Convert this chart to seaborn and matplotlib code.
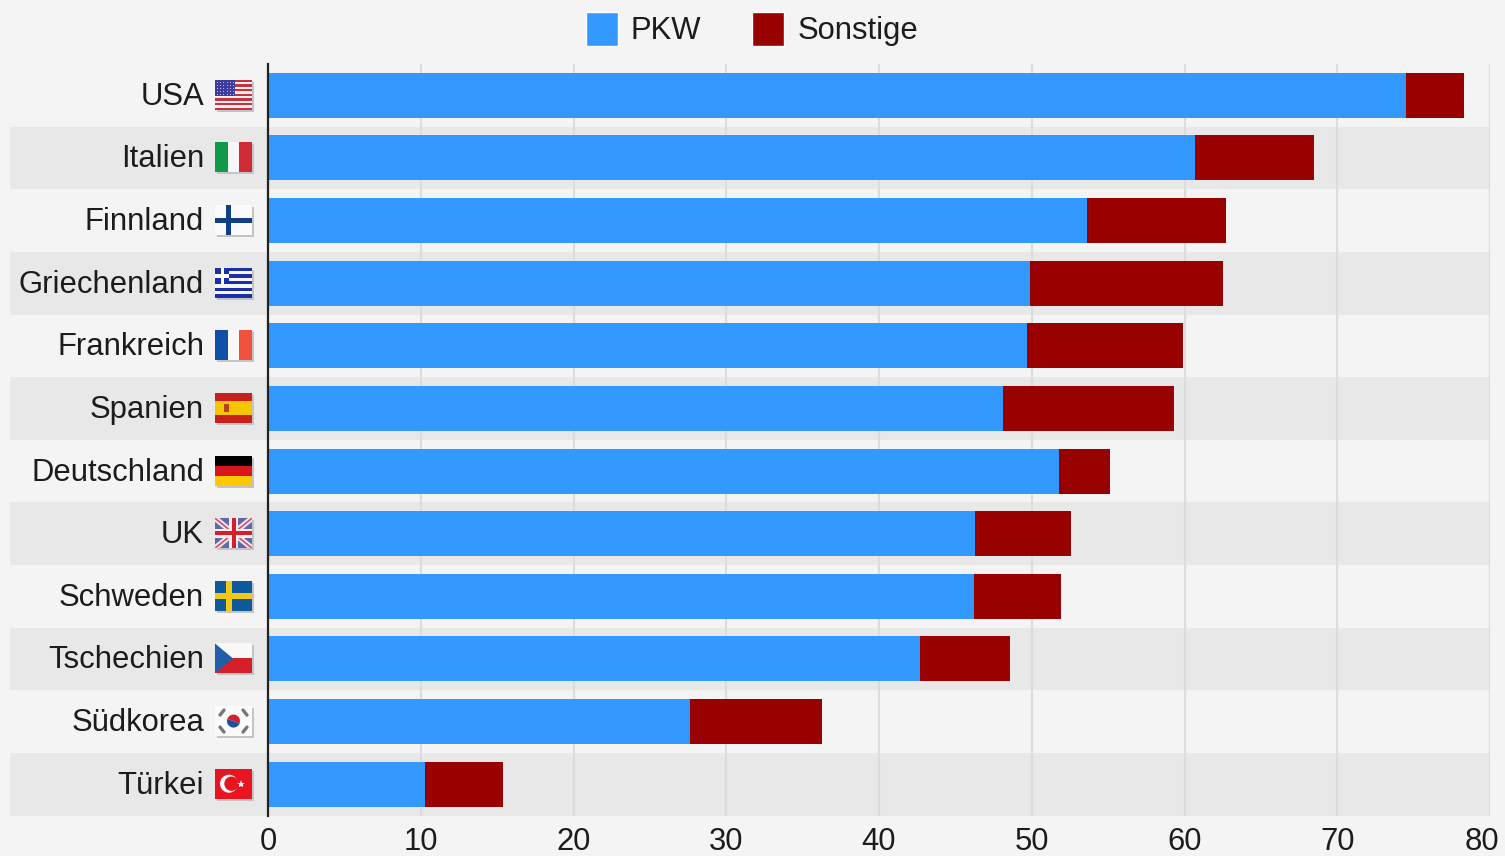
import matplotlib
matplotlib.use("Agg")
import matplotlib.pyplot as plt
from matplotlib.patches import Rectangle, Circle, Polygon, Patch, Wedge
from matplotlib.transforms import ScaledTranslation
import numpy as np
import pandas as pd
import seaborn as sns

countries = ["USA", "Italien", "Finnland", "Griechenland", "Frankreich", "Spanien",
             "Deutschland", "UK", "Schweden", "Tschechien", "Südkorea", "Türkei"]
pkw = [74.5, 60.7, 53.6, 49.9, 49.7, 48.1, 51.8, 46.3, 46.2, 42.7, 27.6, 10.3]
sonstige = [3.8, 7.8, 9.1, 12.6, 10.2, 11.2, 3.3, 6.3, 5.7, 5.9, 8.7, 5.1]
xticks = [0, 10, 20, 30, 40, 50, 60, 70, 80]

W, H = 1505, 856
BG, STRIPE, GRID, BLUE, RED, INK = "#f4f4f4", "#e8e8e8", "#dcdcdc", "#3399ff", "#990000", "#1c1c1c"

sns.set_style("white")
plt.rcParams["font.family"] = ["Liberation Sans", "DejaVu Sans"]

df = pd.DataFrame({"land": countries, "pkw": pkw, "sonstige": sonstige})
df["gesamt"] = df["pkw"] + df["sonstige"]

fig = plt.figure(figsize=(W / 100, H / 100), dpi=100, facecolor=BG)
ax_l, ax_r, ax_t, ax_b = 268, 1490, 64, 815.5
ax = fig.add_axes([ax_l / W, 1 - ax_b / H, (ax_r - ax_l) / W, (ax_b - ax_t) / H])
ax.set_facecolor("none")

sns.barplot(data=df, y="land", x="gesamt", color=RED, saturation=1, width=0.72,
            orient="h", ax=ax, zorder=3, linewidth=0)
sns.barplot(data=df, y="land", x="pkw", color=BLUE, saturation=1, width=0.72,
            orient="h", ax=ax, zorder=4, linewidth=0)

ax.set_xlim(xticks[0], xticks[-1])
ax.set_ylim(len(countries) - 0.5, -0.5)
ax.set_xlabel("")
ax.set_ylabel("")

# alternating row bands reach beyond the axis, behind the labels
stripe_left = (10 - ax_l) / (ax_r - ax_l)
for i in range(1, len(countries), 2):
    ax.add_patch(Rectangle((stripe_left, i - 0.5), 1 - stripe_left, 1,
                           transform=ax.get_yaxis_transform(), facecolor=STRIPE,
                           edgecolor="none", zorder=0, clip_on=False))

ax.set_xticks(xticks)
ax.xaxis.grid(True, color=GRID, linewidth=1.5, zorder=1)
ax.set_axisbelow(True)
for s in ["top", "right", "bottom"]:
    ax.spines[s].set_visible(False)
ax.spines["left"].set_color("#222222")
ax.spines["left"].set_linewidth(1.6)
ax.spines["left"].set_zorder(6)

ax.tick_params(axis="x", length=0, pad=8.5, labelsize=22.3, labelcolor=INK)
ax.tick_params(axis="y", length=0, pad=46, labelsize=22.3, labelcolor=INK)
last = ax.get_xticklabels()[-1]
last.set_transform(last.get_transform() + ScaledTranslation(-8 / 100, 0, fig.dpi_scale_trans))
for lab in ax.get_yticklabels():
    lab.set_transform(lab.get_transform() + ScaledTranslation(0, 2 / 100, fig.dpi_scale_trans))

fig.legend(handles=[Patch(facecolor=BLUE, label="PKW"), Patch(facecolor=RED, label="Sonstige")],
           loc="center", bbox_to_anchor=(752 / W, 1 - 29 / H), ncol=2, frameon=False,
           fontsize=22.3, labelcolor=INK, handlelength=1.03, handleheight=1.3,
           handletextpad=0.42, columnspacing=1.65, borderpad=0, borderaxespad=0)


# ---- small decorative flags, drawn in a 37x30 box ----
def R(a, x, y, w, h, c, z=1):
    a.add_patch(Rectangle((x, y), w, h, facecolor=c, edgecolor="none", zorder=z))


def usa(a):
    R(a, 0, 0, 37, 30, "#f4f0f0")
    for i in range(7):
        R(a, 0, 30 - (2 * i + 1) * 30 / 13, 37, 30 / 13, "#c8313e")
    R(a, 0, 30 - 16.2, 20, 16.2, "#3c3b9e", 2)
    for i in range(5):
        for j in range(6):
            a.plot(2 + j * 3.2, 28 - i * 3.1, ".", color="#c4c6f0", ms=1.6, mew=0, zorder=3)


def ita(a):
    R(a, 0, 0, 13, 30, "#0f9a4a"); R(a, 13, 0, 11, 30, "#f6f6f6"); R(a, 24, 0, 13, 30, "#cf2b37")


def fin(a):
    R(a, 0, 0, 37, 30, "#fafafa"); R(a, 10.5, 0, 5.5, 30, "#0f3f86"); R(a, 0, 12.5, 37, 5, "#0f3f86")


def gre(a):
    R(a, 0, 0, 37, 30, "#f6f6ff")
    for i in range(5):
        R(a, 0, 30 - (2 * i + 1) * 30 / 9, 37, 30 / 9, "#1a2fa8")
    R(a, 0, 30 - 5 * 30 / 9, 14, 5 * 30 / 9, "#1a2fa8", 2)
    R(a, 5.5, 13.3, 3.2, 16.7, "white", 3); R(a, 0, 20, 14, 3.2, "white", 3)


def fra(a):
    R(a, 0, 0, 13, 30, "#0f4fa8"); R(a, 13, 0, 11, 30, "#f8f8f8"); R(a, 24, 0, 13, 30, "#f1523f")


def esp(a):
    R(a, 0, 0, 37, 30, "#c8201f"); R(a, 0, 8, 37, 14, "#f7c400", 2)
    R(a, 9, 11, 5, 8, "#b5431f", 3)


def ger(a):
    R(a, 0, 20, 37, 10, "#000000"); R(a, 0, 10, 37, 10, "#d8151f"); R(a, 0, 0, 37, 10, "#fcc800")


def gbr(a):
    R(a, 0, 0, 37, 30, "#5f6aa6")
    a.plot([0, 37], [0, 30], color="#f4e8ee", lw=4, zorder=2)
    a.plot([0, 37], [30, 0], color="#f4e8ee", lw=4, zorder=2)
    a.plot([0, 37], [0, 30], color="#d05068", lw=1.2, zorder=2)
    a.plot([0, 37], [30, 0], color="#d05068", lw=1.2, zorder=2)
    R(a, 14, 0, 9, 30, "#f8eef0", 3); R(a, 0, 10.5, 37, 9, "#f8eef0", 3)
    R(a, 16.5, 0, 4, 30, "#d5202c", 4); R(a, 0, 13, 37, 4, "#d5202c", 4)


def swe(a):
    R(a, 0, 0, 37, 30, "#0f5a9c"); R(a, 10.5, 0, 6, 30, "#f6c816", 2); R(a, 0, 12, 37, 6, "#f6c816", 2)


def cze(a):
    R(a, 0, 15, 37, 15, "#f8f8f8"); R(a, 0, 0, 37, 15, "#d5202c")
    a.add_patch(Polygon([(0, 0), (0, 30), (18, 15)], facecolor="#1f5fa8", edgecolor="none", zorder=2))


def kor(a):
    R(a, 0, 0, 37, 30, "#fbfbfb")
    a.add_patch(Wedge((18.5, 15), 6.5, -20, 160, facecolor="#d5202c", edgecolor="none", zorder=2))
    a.add_patch(Wedge((18.5, 15), 6.5, 160, 340, facecolor="#1f4f9c", edgecolor="none", zorder=2))
    for x0, y0, x1, y1 in [(5, 21, 9, 26), (28, 26, 32, 21), (5, 9, 9, 4), (28, 4, 32, 9)]:
        a.plot([x0, x1], [y0, y1], color="#777777", lw=2.4, zorder=2)


def tur(a):
    R(a, 0, 0, 37, 30, "#e8141f")
    a.add_patch(Circle((14, 15), 9, facecolor="white", edgecolor="none", zorder=2))
    a.add_patch(Circle((16.5, 15), 7.2, facecolor="#e8141f", edgecolor="none", zorder=3))
    a.plot(26, 15, marker="*", ms=6, color="white", mew=0, zorder=4)


flags = [usa, ita, fin, gre, fra, esp, ger, gbr, swe, cze, kor, tur]
row_px = (ax_b - ax_t) / len(countries)
fig.canvas.draw()
for i, draw in enumerate(flags):
    yc = ax_t + (i + 0.5) * row_px - 0.5
    shadow = Rectangle(((215 + 1.5) / W, 1 - (yc + 15 + 2) / H), 37 / W, 30 / H,
                       transform=fig.transFigure, facecolor="#c4c4c4", edgecolor="none", zorder=5)
    fig.patches.append(shadow)
    shadow.set_figure(fig)
    fa = fig.add_axes([215 / W, 1 - (yc + 15) / H, 37 / W, 30 / H], zorder=7)
    fa.set_xlim(0, 37)
    fa.set_ylim(0, 30)
    fa.axis("off")
    draw(fa)

fig.savefig("out.png", dpi=100, facecolor=BG)
